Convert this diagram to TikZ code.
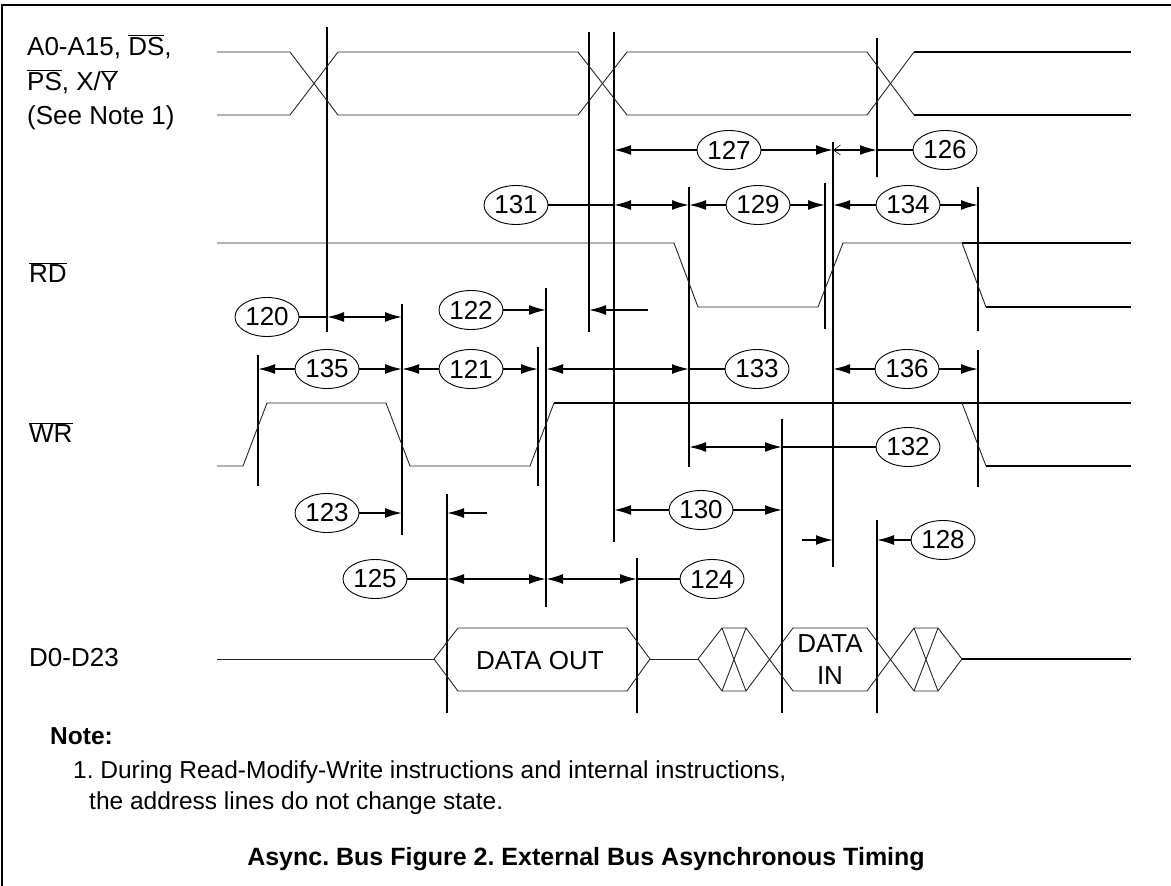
\documentclass[tikz,border=0pt]{standalone}
\usepackage{fontspec}
\setmainfont{Liberation Sans}
\usetikzlibrary{arrows.meta,shapes.geometric}
\frenchspacing
\newcommand{\ovl}[1]{$\overline{\mbox{#1}}$}

\tikzset{
  sig/.style={line width=0.9pt, black!85},
  sigb/.style={line width=1.5pt, black},
  tline/.style={line width=1.8pt},
  dim/.style={line width=1.8pt},
  tnum/.style={draw, ellipse, line width=0.9pt, minimum width=64pt, minimum height=39pt,
    inner sep=0pt, font=\fontsize{26}{30}\selectfont},
  lbl/.style={anchor=base west, inner sep=0pt, font=\fontsize{26}{30}\selectfont},
  notetext/.style={anchor=base west, inner sep=0pt, font=\fontsize{24.5}{28}\selectfont},
}

\begin{document}
\begin{tikzpicture}[x=1pt, y=-1pt, >={Latex[length=17pt,width=10pt]}]
    \useasboundingbox (0,0) rectangle (1171,886);
    \draw[line width=2pt] (2,886) -- (2,5) -- (1171,5);

    % edges of the signals
    \coordinate (vA) at (327,0);
    \coordinate (vB) at (589,0);
    \coordinate (vC) at (614,0);
    \coordinate (vD) at (877,0);
    \coordinate (vE) at (402,0);
    \coordinate (vF) at (258,0);
    \coordinate (vG) at (538,0);
    \coordinate (vH) at (546,0);
    \coordinate (vI) at (689,0);
    \coordinate (vJ) at (825,0);
    \coordinate (vK) at (833,0);
    \coordinate (vL) at (978,0);
    \coordinate (vM) at (782,0);
    \coordinate (vN) at (447,0);
    \coordinate (vO) at (637,0);

    \foreach \v/\ya/\yb in {vA/27/332, vB/32/332, vC/32/542, vD/38/177, vD/520/713,
        vK/142/567, vJ/183/329, vI/187/467, vL/187/331, vL/350/487, vE/304/535,
        vH/288/607, vF/355/486, vG/347/486, vM/419/713, vN/494/713, vO/558/713}
        \draw[tline] (\v |- 0,\ya) -- (\v |- 0,\yb);

    % labels
    \node[lbl] (lblA1) at (27,55) {A0-A15, \ovl{DS},};
    \node[lbl] (lblA2) at (27,90) {\ovl{PS}, X/\ovl{Y}};
    \node[lbl] (lblA3) at (27,124) {(See Note 1)};
    \node[lbl] (lblRD) at (29,282) {\ovl{RD}};
    \node[lbl] (lblWR) at (29,442) {\ovl{WR}};
    \node[lbl] (lblD) at (29,666) {D0-D23};

    % address
    \draw[sig] (217,52) -- (290,52) -- (338,115) -- (578,115) -- (627,52) -- (867,52) -- (914,115);
    \draw[sig] (217,115) -- (290,115) -- (338,52) -- (578,52) -- (627,115) -- (867,115) -- (914,52);
    \draw[sigb] (914,52) -- (1131,52) (914,115) -- (1131,115);

    % RD
    \draw[sig] (217,243) -- (674,243) -- (698,307) -- (818,307) -- (843,243) -- (962,243) -- (986,307);
    \draw[sigb] (962,243) -- (1131,243) (986,307) -- (1131,307);

    % WR
    \draw[sig] (217,466) -- (243,466) -- (267,403) -- (386,403) -- (410,466) -- (530,466) -- (554,403);
    \draw[sigb] (554,403) -- (1131,403) (986,466) -- (1131,466);
    \draw[sig] (962,403) -- (986,466);

    % data
    \draw[sig] (217,659) -- (434,659);
    \draw[sig] (434,659) -- (458,628) -- (627,628) -- (650,659) -- (627,691) -- (458,691) -- cycle;
    \draw[sig] (650,659) -- (698,659);
    \draw[sig] (746,628) -- (722,628) -- (698,659) -- (722,691) -- (746,691);
    \draw[sig] (914,628) -- (938,628) -- (962,659) -- (938,691) -- (914,691);
    \foreach \x in {722,914}
        \draw[sig] (\x,628) -- (\x+24,691) (\x+24,628) -- (\x,691);
    \draw[sig] (746,628) -- (793,691) -- (867,691) -- (914,628);
    \draw[sig] (746,691) -- (793,628) -- (867,628) -- (914,691);
    \draw[sigb] (962,659) -- (1131,659);
    \node[anchor=base, inner sep=0pt, font=\fontsize{26}{30}\selectfont] (dout) at (540,669) {DATA OUT};
    \node[align=center, inner sep=0pt, font=\fontsize{26}{32}\selectfont] (din) at (830,660) {DATA\\IN};

    % timing numbers
    \node[tnum] (n127) at (729,150) {127};
    \node[tnum] (n126) at (945,150) {126};
    \node[tnum] (n131) at (516,205) {131};
    \node[tnum] (n129) at (758,205) {129};
    \node[tnum] (n134) at (908,205) {134};
    \node[tnum] (n120) at (267,317) {120};
    \node[tnum] (n122) at (471,310) {122};
    \node[tnum] (n135) at (327,369) {135};
    \node[tnum] (n121) at (471,369) {121};
    \node[tnum] (n133) at (757,369) {133};
    \node[tnum] (n136) at (907,369) {136};
    \node[tnum] (n132) at (908,447) {132};
    \node[tnum] (n123) at (327,513) {123};
    \node[tnum] (n130) at (701,510) {130};
    \node[tnum] (n128) at (943,540) {128};
    \node[tnum] (n125) at (375,579) {125};
    \node[tnum] (n124) at (712,579) {124};

    \coordinate (e122) at (648,310);
    \coordinate (e123) at (487,513);
    \coordinate (e128) at (802,540);

    % 127, 126
    \draw[dim,->] (n127) -- (vC |- n127);
    \draw[dim,->] (n127) -- (vK |- n127);
    \draw[dim,{Straight Barb[length=7pt,width=10pt,line width=0.6pt]}->] (vK |- n126) -- (vD |- n126);
    \draw[dim] (vD |- n126) -- (n126);

    % 131, 129, 134
    \draw[dim] (n131) -- (vC |- n131);
    \draw[dim,<->] (vC |- n131) -- (vI |- n131);
    \draw[dim,->] (n129) -- (vI |- n129);
    \draw[dim,->] (n129) -- (vJ |- n129);
    \draw[dim,->] (n134) -- (vK |- n134);
    \draw[dim,->] (n134) -- (vL |- n134);

    % 120, 122
    \draw[dim] (n120) -- (vA |- n120);
    \draw[dim,<->] (vA |- n120) -- (vE |- n120);
    \draw[dim,->] (n122) -- (vH |- n122);
    \draw[dim,->] (e122) -- (vB |- e122);

    % 135, 121, 133, 136
    \draw[dim,->] (n135) -- (vF |- n135);
    \draw[dim,->] (n135) -- (vE |- n135);
    \draw[dim,->] (n121) -- (vE |- n121);
    \draw[dim,->] (n121) -- (vG |- n121);
    \draw[dim,<->] (vH |- n133) -- (vI |- n133);
    \draw[dim] (vI |- n133) -- (n133);
    \draw[dim,->] (n136) -- (vK |- n136);
    \draw[dim,->] (n136) -- (vL |- n136);

    % 132
    \draw[dim,<->] (vI |- n132) -- (vM |- n132);
    \draw[dim] (vM |- n132) -- (n132);

    % 123, 130, 128
    \draw[dim,->] (n123) -- (vE |- n123);
    \draw[dim,->] (e123) -- (vN |- e123);
    \draw[dim,->] (n130) -- (vC |- n130);
    \draw[dim,->] (n130) -- (vM |- n130);
    \draw[dim,->] (e128) -- (vK |- e128);
    \draw[dim,->] (n128) -- (vD |- n128);

    % 125, 124
    \draw[dim] (n125) -- (vN |- n125);
    \draw[dim,<->] (vN |- n125) -- (vH |- n125);
    \draw[dim,<->] (vH |- n125) -- (vO |- n125);
    \draw[dim] (vO |- n124) -- (n124);

    % note and caption
    \node[notetext, font=\fontsize{24.5}{28}\selectfont\bfseries] (note) at (50,744) {Note:};
    \node[notetext] (note1) at (73,778)
        {1. During Read-Modify-Write instructions and internal instructions,};
    \node[notetext] (note2) at (89,809)
        {the address lines do not change state.};
    \node[anchor=base, inner sep=0pt, font=\fontsize{25}{28}\selectfont\bfseries] (cap) at (586,865)
        {Async. Bus Figure 2. External Bus Asynchronous Timing};
\end{tikzpicture}
\end{document}
